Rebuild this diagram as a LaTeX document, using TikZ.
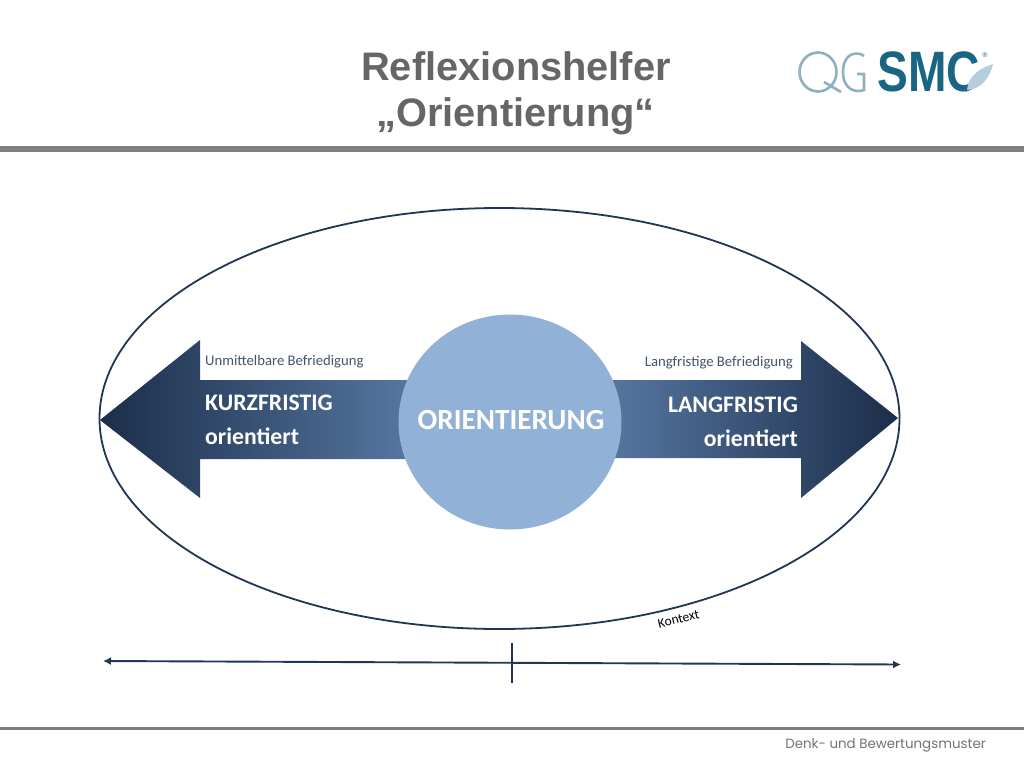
\documentclass[tikz,border=0pt]{standalone}
\usepackage{fontspec}
\setmainfont{Liberation Sans}
\newfontfamily\carlitofont{Carlito}
\newfontfamily\footerfont{Poppins}
\usetikzlibrary{shapes.geometric,arrows.meta}
\definecolor{navy}{HTML}{1F3654}
\definecolor{darkend}{HTML}{1B2E49}
\definecolor{midtone}{HTML}{2F4B72}
\definecolor{lightend}{HTML}{5878A3}
\definecolor{disc}{HTML}{92B1D7}
\definecolor{bar}{HTML}{7F7F7F}
\definecolor{titlegray}{HTML}{666666}
\definecolor{qg}{HTML}{8FB0BF}
\definecolor{smc}{HTML}{1A6584}
\definecolor{wing}{HTML}{B5CEDD}
\definecolor{sublabel}{HTML}{44546A}
\tikzset{
  titletext/.style={font=\bfseries\fontsize{39.8}{48}\selectfont,text=titlegray,inner sep=0pt,align=center},
  bigtext/.style={font=\carlitofont\bfseries\fontsize{23.7}{27}\selectfont,text=white,inner sep=0pt},
  subtext/.style={font=\carlitofont\fontsize{14.7}{17}\selectfont,text=sublabel,inner sep=0pt},
  rule/.style={fill=bar,draw=none},
  axisline/.style={draw=navy,line width=1.9pt},
  logoline/.style={draw=qg,line width=2.6pt},
}
\begin{document}
\begin{tikzpicture}[x=1pt,y=-1pt]
\useasboundingbox (0,0) rectangle (1024,768);
\fill[white] (0,0) rectangle (1024,768);
% title
\node[titletext] (t1) at (516,66) {Reflexionshelfer};
\node[titletext] (t2) at (515.5,116) {„Orientierung“};
% rules
\fill[rule] (0,146) rectangle (1024,152);
\fill[rule] (0,727) rectangle (1024,730);
% footer
\node[font=\footerfont\fontsize{13.4}{17}\selectfont,text=black!55,anchor=east,inner sep=0pt] (foot) at (986,745) {Denk- und Bewertungsmuster};
% logo
\draw[logoline] (818,72) ellipse (18.5 and 19.5);
\draw[logoline] (824,82) -- (841,92);
\draw[logoline] (864,56) .. controls (858,51) and (843,52) .. (843,72) .. controls (843,90) and (856,93) .. (864,90) -- (864,74) -- (857,74);
\node[font=\bfseries\fontsize{57}{60}\selectfont,text=smc,inner sep=0pt,anchor=west] (logo) at (877,72) {\scalebox{0.81}[1]{SMC}};
\path[fill=wing] (967,90) .. controls (968,76) and (980,68) .. (993,64) .. controls (990,78) and (980,90) .. (967,90) -- cycle;
\node[font=\fontsize{7}{8}\selectfont,text=smc,inner sep=0pt] (reg) at (985,55) {®};
% context ellipse
\node[ellipse,draw=navy,line width=1.8pt,minimum width=800pt,minimum height=421pt,inner sep=0pt] (ctx) at (499.5,418.5) {};
% arrows
\path[left color=darkend,middle color=midtone,right color=lightend,draw=none] (100,420) -- (200,340) -- (200,380) -- (420,380) -- (420,459) -- (200,459) -- (200,498) -- cycle;
\path[right color=darkend,middle color=midtone,left color=lightend,draw=none] (898,418) -- (801,341) -- (801,380) -- (600,380) -- (600,458) -- (801,458) -- (801,498) -- cycle;
% disc
\node[ellipse,fill=disc,minimum width=223pt,minimum height=215pt,inner sep=0pt] (core) at (510,422) {};
\node[font=\carlitofont\bfseries\fontsize{29.2}{32}\selectfont,text=white,inner sep=0pt] (corelabel) at (511,420) {ORIENTIERUNG};
% labels
\node[subtext,anchor=west] (u) at (205,362) {Unmittelbare Befriedigung};
\node[subtext,anchor=east] (l) at (793,363) {Langfristige Befriedigung};
\node[bigtext,anchor=west] (k) at (205,403) {KURZFRISTIG};
\node[bigtext,anchor=west] (ko) at (205,436) {orientiert};
\node[bigtext,anchor=east] (la) at (798,405) {LANGFRISTIG};
\node[bigtext,anchor=east] (lo) at (798,438) {orientiert};
\node[font=\carlitofont\fontsize{13.5}{15}\selectfont,text=black,rotate=14,inner sep=0pt] (ktx) at (678.5,619) {Kontext};
% axis
\coordinate (al) at (103,661);
\coordinate (ar) at (901,664.5);
\coordinate (tt) at (512,643);
\coordinate (tb) at (512,683);
\draw[axisline,{Latex[length=8pt,width=8pt]}-{Latex[length=8pt,width=8pt]}] (al) -- (ar);
\draw[axisline] (tt) -- (tb);
\end{tikzpicture}
\end{document}
